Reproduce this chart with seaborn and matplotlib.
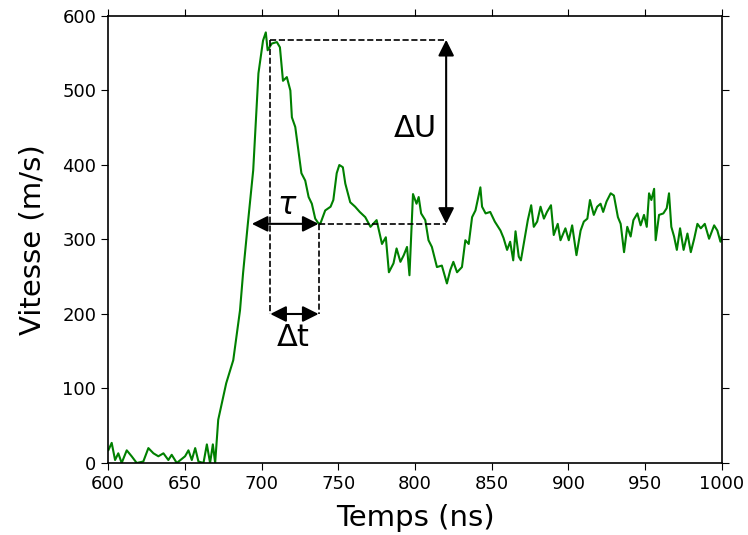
import numpy as np
import pandas as pd
import matplotlib
matplotlib.use("Agg")
import matplotlib.pyplot as plt
import seaborn as sns

# velocity trace (ns, m/s)
temps = [600.2, 602.4, 604.6, 606.7, 608.9, 612.2, 615.4, 618.7, 623.0, 626.3,
         629.6, 632.8, 636.1, 639.3, 641.5, 644.8, 650.2, 652.4, 654.6, 656.8,
         658.9, 662.2, 664.4, 666.5, 668.3, 669.8, 671.8, 677.0, 681.6, 686.0,
         688.0, 691.0, 694.6, 698.0, 701.0, 702.8, 704.0, 706.7, 710.0, 712.0,
         714.0, 716.5, 718.8, 719.8, 722.0, 724.0, 726.0, 728.5, 730.7, 732.8,
         735.0, 737.0, 738.3, 741.5, 745.0, 746.8, 749.0, 750.7, 753.0, 754.6,
         757.8, 761.0, 764.0, 767.6, 771.0, 775.0, 778.5, 781.0, 783.0, 786.0,
         788.0, 790.5, 792.7, 794.8, 796.4, 798.7, 801.0, 802.4, 804.0, 806.7,
         808.8, 811.0, 814.3, 817.5, 820.8, 823.0, 825.0, 827.4, 830.6, 832.8,
         835.0, 837.2, 839.4, 842.6, 843.7, 846.0, 849.0, 852.0, 855.7, 857.7,
         860.0, 862.0, 864.0, 865.5, 867.6, 869.0, 871.4, 873.5, 875.7, 877.4,
         879.6, 881.8, 884.0, 886.0, 888.6, 890.4, 893.0, 894.8, 898.0, 900.2,
         902.4, 905.2, 907.9, 910.0, 912.3, 914.0, 916.5, 918.7, 920.9, 922.6,
         924.8, 927.5, 929.6, 932.2, 934.0, 936.2, 938.3, 940.5, 942.3, 944.9,
         947.0, 949.2, 951.0, 952.5, 954.0, 955.8, 956.8, 959.0, 961.8, 964.0,
         965.5, 967.0, 968.8, 970.6, 972.7, 975.0, 977.5, 979.7, 981.9, 984.0,
         986.2, 988.8, 991.6, 994.9, 997.0, 999.0, 1000.0]
vitesse = [17, 27, 4, 13, 0, 17, 9, 0, 2, 20,
           13, 9, 13, 4, 11, 0, 9, 17, 4, 20,
           2, 0, 25, 0, 25, 0, 58, 107, 138, 205,
           255, 319, 393, 523, 567, 578, 554, 563, 565, 558,
           513, 518, 500, 464, 451, 420, 389, 379, 357, 348,
           328, 322, 321, 339, 344, 353, 389, 400, 397, 375,
           350, 344, 337, 330, 317, 326, 294, 303, 256, 268,
           288, 270, 279, 290, 252, 361, 348, 357, 335, 326,
           299, 290, 263, 265, 241, 259, 270, 256, 263, 299,
           294, 330, 339, 370, 344, 335, 337, 324, 312, 302,
           286, 297, 272, 311, 277, 272, 301, 326, 346, 317,
           324, 344, 328, 337, 346, 306, 321, 299, 315, 299,
           319, 279, 312, 324, 328, 353, 333, 344, 348, 337,
           351, 362, 359, 330, 321, 283, 317, 304, 326, 335,
           319, 333, 317, 362, 353, 368, 299, 333, 335, 342,
           362, 317, 304, 286, 315, 286, 308, 283, 301, 321,
           315, 321, 301, 319, 312, 297, 305]

# annotation levels
t_debut, t_pic, t_fin, t_du = 693.7, 705.7, 737.2, 820.3
u_max, u_plateau, u_dt = 568, 321, 200

df = pd.DataFrame({"Temps": temps, "Vitesse": vitesse})

sns.set_style("ticks")
plt.rcParams.update({"text.color": "black", "axes.labelcolor": "black",
                     "xtick.color": "black", "ytick.color": "black",
                     "axes.edgecolor": "black"})
fig = plt.figure(figsize=(7.48, 5.35), dpi=100)
ax = fig.add_axes([0.1444, 0.1346, 0.8208, 0.8355])

sns.lineplot(data=df, x="Temps", y="Vitesse", color="green", lw=1.5, ax=ax)

# dashed guide lines
ax.plot([t_pic, t_du], [u_max, u_max], "k--", lw=1.2)
ax.plot([t_fin, t_du], [u_plateau, u_plateau], "k--", lw=1.2)
ax.plot([t_pic, t_pic], [u_max, u_dt], "k--", lw=1.2)
ax.plot([t_fin, t_fin], [u_plateau, u_dt], "k--", lw=1.2)

arrow = dict(arrowstyle="<|-|>", color="black", lw=1.5, mutation_scale=24,
             shrinkA=0, shrinkB=0)
ax.annotate("", xy=(t_debut, u_plateau), xytext=(t_fin, u_plateau), arrowprops=arrow)
ax.annotate("", xy=(t_pic, u_dt), xytext=(t_fin, u_dt), arrowprops=arrow)
ax.annotate("", xy=(t_du, u_max), xytext=(t_du, u_plateau), arrowprops=arrow)

ax.text(716.6, 346, r"$\tau$", fontsize=22, ha="center", va="center")
ax.text(720.9, 169, "Δt", fontsize=22, ha="center", va="center")
ax.text(800.3, 449, "ΔU", fontsize=22, ha="center", va="center")

ax.set_xlim(600, 1000)
ax.set_ylim(0, 600)
ax.set_xticks(np.arange(600, 1001, 50))
ax.set_yticks(np.arange(0, 601, 100))
ax.tick_params(direction="out", top=True, right=True, labelsize=13, length=5)
ax.set_xlabel("Temps (ns)", fontsize=21, labelpad=8)
ax.set_ylabel("Vitesse (m/s)", fontsize=21, labelpad=11)
for s in ax.spines.values():
    s.set_visible(True)
    s.set_linewidth(1.2)

fig.savefig("out.png", dpi=100)
